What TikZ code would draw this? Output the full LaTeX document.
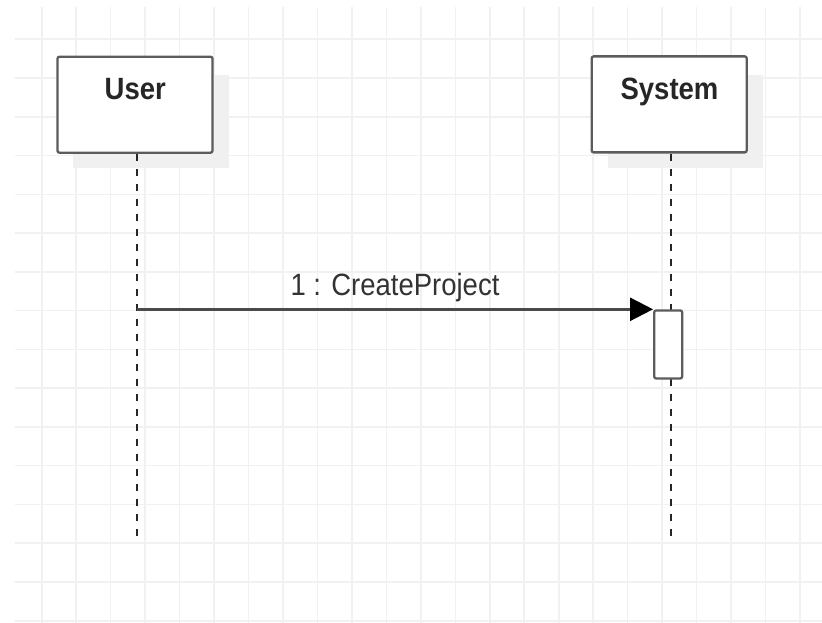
\documentclass[tikz,border=0pt]{standalone}
\usepackage{fontspec}
\setmainfont{Liberation Sans}
\usetikzlibrary{arrows.meta,calc}
\definecolor{gridgray}{HTML}{F1F1F1}
\definecolor{shadowgray}{HTML}{F0F0F0}
\definecolor{boxgray}{HTML}{5C5C5C}
\definecolor{msggray}{HTML}{4A4A4A}
\definecolor{textgray}{HTML}{333333}
\newcommand{\tallbold}[1]{\scalebox{1}[1.12]{\fontsize{27.5}{30}\selectfont\bfseries #1}}
\newcommand{\tallplain}[1]{\scalebox{1}[1.12]{\fontsize{27.5}{30}\selectfont #1}}
\tikzset{
  lifebox/.style={draw=boxgray, line width=2.3pt, fill=white, rounded corners=2pt,
    minimum width=155pt, minimum height=96pt, inner sep=0pt},
  boxshadow/.style={fill=shadowgray, draw=none},
  headtext/.style={anchor=base, inner sep=0pt, text=black!85},
  lifeline/.style={draw=black!85, line width=2pt, dash pattern=on 7.5pt off 7.5pt},
  actbox/.style={draw=boxgray, line width=2.3pt, fill=white, rounded corners=2pt,
    minimum width=28pt, minimum height=68pt, inner sep=0pt},
  msg/.style={draw=msggray, line width=2.6pt,
    -{Triangle[length=23pt, width=23pt, color=black]}},
  msgtext/.style={anchor=base, inner sep=0pt, text=textgray},
}
\begin{document}
\begin{tikzpicture}[x=1pt, y=-1pt]
  \useasboundingbox (0,0) rectangle (822,623);
  \fill[white] (0,0) rectangle (822,623);
  % background grid
  \foreach \k in {0,...,22}
    \draw[gridgray, line width=1.6pt] ({41.7+34.47*\k},7) -- ({41.7+34.47*\k},623);
  \foreach \k in {0,...,15}
    \draw[gridgray, line width=1.6pt] (15,{39.3+38.76*\k}) -- (822,{39.3+38.76*\k});

  % drop shadows of the participant boxes
  \fill[boxshadow] (73.3,75) rectangle (228.7,168.5);
  \fill[boxshadow] (607.7,75) rectangle (762.7,168.5);

  % participants
  \node[lifebox] (user) at (135,104.7) {};
  \node[lifebox] (system) at (669.2,104.4) {};
  \node[headtext] (usertext) at (135.3,99.3) {\tallbold{User}};
  \node[headtext] (systemtext) at (669.5,99.3) {\tallbold{System}};

  % lifeline start and end points
  \coordinate (userstart) at ($(user.south)+(1.6,0)$);
  \coordinate (systemstart) at ($(system.south)+(1.5,0)$);
  \coordinate (userend) at (userstart |- 0,541);
  \coordinate (systemend) at (systemstart |- 0,541);

  \draw[lifeline] (userstart) -- (userend);
  \draw[lifeline] (systemstart) -- (systemend);

  % activation on the System lifeline
  \node[actbox, anchor=north] (act) at ($(system.south |- 0,309.3)+(-1,0)$) {};

  % message
  \draw[msg] (act.north west -| userstart) -- (act.north west);
  \node[msgtext] (msglabel) at (395,295) {\tallplain{1 : CreateProject}};
\end{tikzpicture}
\end{document}
